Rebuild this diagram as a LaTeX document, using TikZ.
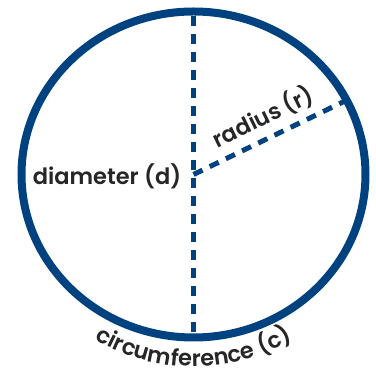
\documentclass[tikz,border=0pt]{standalone}
\usepackage{fontspec}
\usepackage{xcolor}
\usepackage{tikz}
\usetikzlibrary{decorations.text}
\newfontfamily\kidsfont{Poppins SemiBold}
\definecolor{rimblue}{RGB}{0, 66, 128}
\definecolor{labelgrey}{RGB}{38, 38, 38}

\begin{document}
\begin{tikzpicture}[x=1pt, y=1pt,
		rim/.style={rimblue, line width=8pt},
		dashline/.style={rimblue, line width=5pt, dash pattern=on 10pt off 8pt},
		lbl/.style={text=labelgrey, inner sep=0pt, font=\kidsfont\fontsize{22.5}{22.5}\selectfont}]
			\def\rx{172}
			\def\ry{163}
			\useasboundingbox (0, 0) rectangle (376, 374);

			% --- Points on the circle ---
			\coordinate (o)    at (193.5, 199.5);
			\coordinate (top)  at (193.5, 358);
			\coordinate (bot)  at (193.5, 41);
			\coordinate (rend) at (345, 273);

			% --- Diameter and radius ---
			\draw[dashline] (top) -- (bot);
			\draw[dashline] (o) -- (rend);

			% --- Circle ---
			\draw[rim] (o) ellipse [x radius=\rx pt, y radius=\ry pt];

			% --- Labels ---
			\node[lbl] (diam) at (107, 198) {diameter (d)};
			\node[lbl, rotate=26] (rad) at (263, 257) {radius (r)};
			\path[decorate, decoration={text along path, text align=center,
				text={|\kidsfont\fontsize{22.5}{22.5}\selectfont\color{labelgrey}|circumference (c)}}]
				(o) ++(225:192) arc[start angle=225, end angle=315, radius=192pt];
		\end{tikzpicture}
\end{document}
